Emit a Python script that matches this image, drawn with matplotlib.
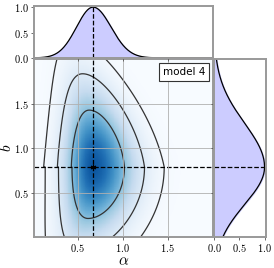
import numpy as np
import matplotlib
matplotlib.use("Agg")
import matplotlib.pyplot as plt

plt.rcParams['mathtext.fontset'] = 'cm'
plt.rcParams['font.family'] = ['DejaVu Sans']

# ---- data ----
label = "model 4"
alpha_peak = 0.67
b_peak = 0.79
# widths of the 2D distribution in b (above / below the peak)
b_sigma_up = 0.42
b_sigma_down = 0.38
# drift of the alpha-mode with b (above / below the peak)
mode_curv_up = 0.108
mode_curv_down = 0.17
# widths in alpha (left / right of the mode) at the peak, and their change with b above the peak
a_sigma_left = 0.16
a_sigma_right = 0.23
a_sigma_left_slope = 0.025
a_sigma_right_slope = 0.06
a_sigma_left_low = 0.155
# contour levels in units of chi^2 (1, 2, 3 sigma in 2D)
chi2_levels = [2.30, 6.18, 11.83]
# marginal widths (left / right of the peak)
marg_alpha_sigma = [0.185, 0.20]
marg_b_sigma = [0.42, 0.49]

alpha_lim = (0.015, 2.0)
b_lim = (0.01, 2.0)
ticks_main = [0.5, 1.0, 1.5]
ticks_marg = [0.0, 0.5, 1.0]

# ---- density ----
a = np.linspace(alpha_lim[0], alpha_lim[1], 400)
b = np.linspace(b_lim[0], b_lim[1], 400)
A, Bg = np.meshgrid(a, b)
db = Bg - b_peak
sb = np.where(db > 0, b_sigma_up, b_sigma_down)
Qb = (db / sb) ** 2
mode = np.where(db > 0, alpha_peak - mode_curv_up * db ** 2, alpha_peak - mode_curv_down * db ** 2)
sl = np.where(db > 0, a_sigma_left - a_sigma_left_slope * db, a_sigma_left_low)
sr = np.where(db > 0, a_sigma_right - a_sigma_right_slope * db, a_sigma_right)
da = A - mode
Qa = (da / np.where(da < 0, sl, sr)) ** 2
Q = Qa + Qb
P = np.exp(-0.5 * Q)
C = 0.85 * P ** 0.6

def split_normal(x, x0, s):
    d = x - x0
    return np.exp(-0.5 * (d / np.where(d < 0, s[0], s[1])) ** 2)

marg_a = split_normal(a, alpha_peak, marg_alpha_sigma)
marg_b = split_normal(b, b_peak, marg_b_sigma)

fig = plt.figure(figsize=(2.74, 2.68), dpi=100)
ax = fig.add_axes([0.125, 0.117, 0.651, 0.663])
axt = fig.add_axes([0.125, 0.784, 0.651, 0.195])
axr = fig.add_axes([0.781, 0.117, 0.19, 0.663])

spine_col = '#999999'
for axx in (ax, axt, axr):
    for s in axx.spines.values():
        s.set_color(spine_col)
        s.set_linewidth(1.4)
    axx.tick_params(labelsize=7.5, length=2.5, width=0.6, color='#555555', pad=1.5)

ax.pcolormesh(a, b, C, cmap='Blues', vmin=0, vmax=1, shading='auto', rasterized=True)
ax.contour(a, b, Q, levels=chi2_levels, colors='#333333', linewidths=0.9)
ax.grid(True, color='#b0b0b0', linewidth=0.6)
ax.set_axisbelow(False)
ax.axvline(alpha_peak, color='k', ls='--', lw=0.9)
ax.axhline(b_peak, color='k', ls='--', lw=0.9)
ax.plot([alpha_peak], [b_peak], marker=(6, 2, 0), color='k', ms=4, mew=0.8)
ax.set_xlim(alpha_lim); ax.set_ylim(b_lim)
ax.set_xticks(ticks_main); ax.set_yticks(ticks_main)
ax.set_xticklabels([f'${t:.1f}$' for t in ticks_main])
ax.set_yticklabels([f'${t:.1f}$' for t in ticks_main])
ax.set_xlabel(r'$\alpha$', fontsize=11, labelpad=-1)
ax.set_ylabel(r'$b$', fontsize=11, labelpad=0)
ax.text(0.96, 0.955, label, transform=ax.transAxes, ha='right', va='top', fontsize=7.5,
        bbox=dict(boxstyle='square,pad=0.35', fc='white', ec='#333333', lw=0.8))

axt.fill_between(a, marg_a, color='#ccccff')
axt.plot(a, marg_a, color='k', lw=0.9)
axt.axvline(alpha_peak, color='k', ls='--', lw=0.9)
axt.set_xlim(alpha_lim); axt.set_ylim(0, 1.03)
axt.set_xticks(ticks_main); axt.set_xticklabels([])
axt.set_yticks(ticks_marg)
axt.set_yticklabels([f'${t:.1f}$' for t in ticks_marg])

axr.fill_betweenx(b, marg_b, color='#ccccff')
axr.plot(marg_b, b, color='k', lw=0.9)
axr.axhline(b_peak, color='k', ls='--', lw=0.9)
axr.set_ylim(b_lim); axr.set_xlim(0, 1.03)
axr.set_yticks(ticks_main); axr.set_yticklabels([])
axr.set_xticks(ticks_marg)
axr.set_xticklabels([f'${t:.1f}$' for t in ticks_marg])

fig.savefig('out.png', dpi=100)
